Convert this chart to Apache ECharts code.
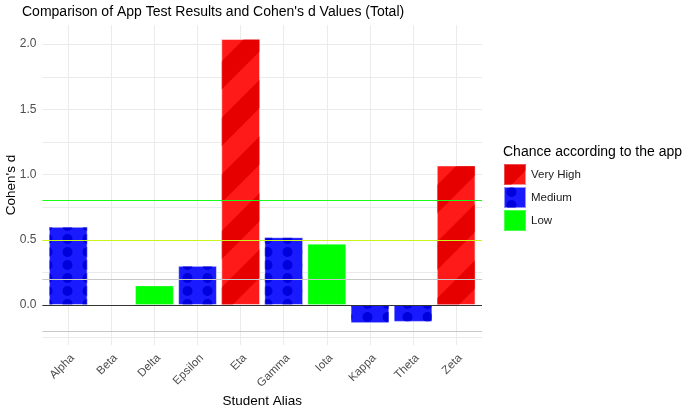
<!DOCTYPE html>
<html>
<head>
<meta charset="utf-8">
<script src="https://cdn.jsdelivr.net/npm/echarts@6/dist/echarts.min.js"></script>
<style>
  html, body { margin: 0; padding: 0; background: #fff; }
  #main { width: 685px; height: 408px; }
</style>
</head>
<body>
<div id="main"></div>
<script>
// data
var students = ['Alpha', 'Beta', 'Delta', 'Epsilon', 'Eta', 'Gamma', 'Iota', 'Kappa', 'Theta', 'Zeta'];
var cohensD = [0.60, 0, 0.15, 0.30, 2.04, 0.52, 0.47, -0.14, -0.13, 1.07];
var chance = ['Medium', 'Medium', 'Low', 'Medium', 'Very High', 'Medium', 'Low', 'Medium', 'Medium', 'Very High'];
var levels = ['Very High', 'Medium', 'Low'];
var yLabels = [0, 0.5, 1, 1.5, 2];
var yGrid = [-0.25, 0, 0.25, 0.5, 0.75, 1, 1.25, 1.5, 1.75, 2];
var refLines = [0.8, 0.5, 0.2, -0.2, 0];

var font = '"Liberation Sans", Arial, sans-serif';

var levelStyle = {
    'Very High': {
        color: '#ff1a1a',
        decal: { symbol: 'rect', color: '#e60000', dashArrayX: [1, 0], dashArrayY: [20, 20], rotation: -Math.PI / 4 }
    },
    'Medium': {
        color: '#1a1aff',
        decal: { symbol: 'circle', color: '#0000dc', symbolSize: 1, symbolKeepAspect: false, dashArrayX: [15, 5], dashArrayY: [10, 3] }
    },
    'Low': {
        color: '#00ff00'
    }
};
var refColors = ['#1aff1a', '#c8f51a', '#c8c8c8', '#c8c8c8', '#333333'];

var myChart = echarts.init(document.getElementById('main'));

var series = levels.map(function (lvl) {
    var st = levelStyle[lvl];
    var itemStyle = {
        color: st.color,
        borderColor: 'rgba(255,255,255,0.3)',
        borderWidth: 1
    };
    if (st.decal) itemStyle.decal = st.decal;
    return {
        name: lvl,
        type: 'bar',
        barWidth: 38.8,
        barGap: '-100%',
        itemStyle: itemStyle,
        data: students.map(function (s, i) {
            return chance[i] === lvl ? [i + 1, cohensD[i]] : null;
        }).filter(function (d) { return d; })
    };
});

// reference lines, one series each
refLines.forEach(function (v, i) {
    series.push({
        name: 'ref' + i,
        type: 'line',
        data: [],
        z: 5,
        color: refColors[i],
        markLine: {
            silent: true,
            symbol: 'none',
            label: { show: false },
            lineStyle: { color: refColors[i], width: 1, type: 'solid', opacity: 1 },
            data: [{ yAxis: v }]
        }
    });
});

myChart.setOption({
    backgroundColor: '#fff',
    animation: false,
    title: [{
        text: 'Comparison of App Test Results and Cohen\'s d Values (Total)',
        left: 22,
        top: 5,
        padding: 0,
        textStyle: { fontFamily: font, fontSize: 14, fontWeight: 'normal', color: '#000' }
    }, {
        text: 'Chance according to the app',
        left: 503,
        top: 145,
        padding: 0,
        textStyle: { fontFamily: font, fontSize: 14, fontWeight: 'normal', color: '#000' }
    }],
    legend: {
        data: levels,
        orient: 'vertical',
        left: 503,
        top: 163,
        padding: 0,
        icon: 'rect',
        itemWidth: 22,
        itemHeight: 21,
        itemGap: 0,
        textStyle: { fontFamily: font, fontSize: 11.5, color: '#1a1a1a' }
    },
    grid: {
        left: 42.4,
        right: 203,
        top: 25,
        bottom: 63,
        containLabel: false,
        outerBoundsMode: 'none'
    },
    xAxis: {
        type: 'value',
        min: 0.4,
        max: 10.6,
        name: 'Student Alias',
        nameLocation: 'middle',
        nameGap: 49,
        nameMoveOverlap: false,
        nameTextStyle: { fontFamily: font, fontSize: 13.5, color: '#000' },
        axisLine: { show: false },
        axisTick: { show: false, customValues: students.map(function (s, i) { return i + 1; }) },
        axisLabel: {
            customValues: students.map(function (s, i) { return i + 1; }),
            rotate: 45,
            margin: 7,
            verticalAlign: 'top',
            fontFamily: font,
            fontSize: 11.5,
            color: '#4d4d4d',
            formatter: function (v) { return students[Math.round(v) - 1]; }
        },
        splitLine: { show: true, lineStyle: { color: '#ebebeb', width: 1 } }
    },
    yAxis: {
        type: 'value',
        min: -0.307,
        max: 2.147,
        name: 'Cohen\'s d',
        nameLocation: 'middle',
        nameGap: 24,
        nameMoveOverlap: false,
        nameTextStyle: { fontFamily: font, fontSize: 13.5, color: '#000' },
        axisLine: { show: false },
        axisTick: { show: false, customValues: yGrid },
        axisLabel: {
            customValues: yLabels,
            margin: 6,
            fontFamily: font,
            fontSize: 12,
            color: '#4d4d4d',
            formatter: function (v) { return v.toFixed(1); }
        },
        splitLine: { show: true, lineStyle: { color: '#ebebeb', width: 1 } }
    },
    series: series
});
</script>
</body>
</html>
